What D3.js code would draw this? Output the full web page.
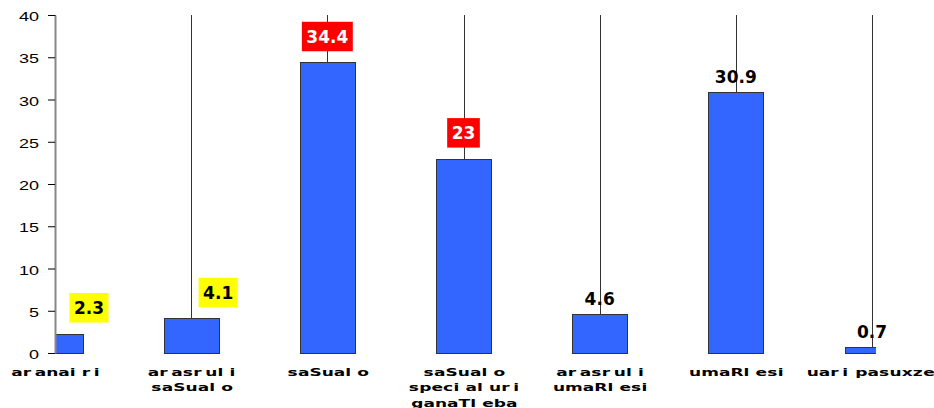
<!DOCTYPE html>
<html><head><meta charset="utf-8">
<script src="https://cdn.jsdelivr.net/npm/d3@7"></script>
<style>body{margin:0;background:#fff}svg{display:block}</style>
</head><body>
<svg id="c" width="934" height="408"></svg>
<script>
const categories = ["aranairi", "arasruli\nsaSualo", "saSualo", "saSualo\nspecialuri\nganaTleba", "arasruli\numaRlesi", "umaRlesi", "uari pasuxze"];
const values = [2.3, 4.1, 34.4, 23, 4.6, 30.9, 0.7];
const yTicks = [0, 5, 10, 15, 20, 25, 30, 35, 40];
const labelKinds = ["yellow", "yellow", "red", "red", "plain", "plain", "plain"];
const labelShift = [34, 27, 0, 0, 0, 0, 0];

const W = 934, H = 408;
const plot = {left: 55, right: 876, top: 15, bottom: 353};
const svg = d3.select("#c");
const x = d3.scalePoint().domain(categories).range([55, 872]);
const y = d3.scaleLinear().domain([0, 40]).range([plot.bottom, plot.top]);
const bw = 55;
const snap = v => Math.round(v) + 0.5;

svg.append("defs").append("clipPath").attr("id", "clip")
  .append("rect").attr("x", plot.left).attr("y", 0)
  .attr("width", plot.right - plot.left).attr("height", H);

// vertical grid lines behind bars
svg.append("g").selectAll("line").data(categories).join("line")
  .attr("x1", d => snap(x(d))).attr("x2", d => snap(x(d)))
  .attr("y1", y(40)).attr("y2", y(0))
  .attr("stroke", "#333").attr("stroke-width", 1);

// bars
svg.append("g").attr("clip-path", "url(#clip)")
  .selectAll("rect").data(values).join("rect")
  .attr("x", (d, i) => Math.round(x(categories[i]) - bw / 2) + 0.5)
  .attr("y", d => Math.round(y(d)) + 0.5)
  .attr("width", bw)
  .attr("height", d => Math.round(y(0)) - Math.round(y(d)))
  .attr("fill", "#3366ff").attr("stroke", "#333").attr("stroke-width", 1);

// y axis
const sx = 1.5;
const ax = svg.append("g").attr("transform", `translate(${plot.left},0)`)
  .call(d3.axisLeft(y).tickValues(yTicks).tickSize(7).tickSizeOuter(0).tickPadding(0));
ax.select(".domain").attr("stroke", "#888").attr("stroke-width", 2);
ax.selectAll(".tick line").attr("stroke", "#000");
ax.selectAll(".tick text")
  .attr("font-family", "'Liberation Sans', Arial, sans-serif")
  .attr("font-size", 12).attr("fill", "#000")
  .attr("dy", null).attr("y", 5.6)
  .attr("x", -16 / sx)
  .attr("transform", `scale(${sx},1)`);

// value labels
const lab = svg.append("g");
values.forEach((v, i) => {
  const cx = x(categories[i]) + labelShift[i];
  const top = y(v);
  const kind = labelKinds[i];
  const t = lab.append("text")
    .attr("font-family", "'DejaVu Sans', Verdana, sans-serif")
    .attr("font-weight", "bold").attr("font-size", 17)
    .attr("text-anchor", "middle").attr("x", cx)
    .text(v);
  if (kind === "plain") {
    t.attr("y", top - 9).attr("fill", "#000");
  } else {
    const tw = t.node().getComputedTextLength();
    const bh = 29.5, cy = top - 25.8;
    lab.insert("rect", () => t.node())
      .attr("x", cx - (tw + 9) / 2).attr("y", cy - bh / 2)
      .attr("width", tw + 9).attr("height", bh)
      .attr("fill", kind === "yellow" ? "#ffff00" : "#ff0000");
    t.attr("y", cy + 6.2).attr("fill", kind === "yellow" ? "#000" : "#fff");
  }
});

// x labels: stretched glyphs with per-character placement
const fx = 1.55, fsz = 11, fam = "'DejaVu Sans', Verdana, sans-serif";
const ctx = document.createElement("canvas").getContext("2d");
ctx.font = `bold ${fsz}px "DejaVu Sans"`;
const narrow = new Set(["i", "l", "r"]);
const xl = svg.append("g");
categories.forEach(cat => {
  const lines = cat.split("\n");
  lines.forEach((ln, k) => {
    const chars = [...ln];
    const adv = chars.map(c => c === " " ? 1 : narrow.has(c) ? 12 : Math.max(ctx.measureText(c).width * fx, 10.5));
    const lastW = ctx.measureText(chars[chars.length - 1]).width * fx * 0.85;
    const total = adv.slice(0, -1).reduce((a, b) => a + b, 0) + lastW;
    let pos = Math.min(x(cat) - total / 2, W - 1 - total);
    const xs = [];
    adv.forEach(a => { xs.push((pos / fx).toFixed(2)); pos += a; });
    xl.append("text")
      .attr("font-family", fam).attr("font-weight", "bold").attr("font-size", fsz)
      .attr("fill", "#000")
      .attr("transform", `translate(0,${375.5 + 15.5 * k}) scale(${fx},1)`)
      .attr("x", xs.join(" ")).attr("y", 0)
      .text(ln);
  });
});
</script>
</body></html>
